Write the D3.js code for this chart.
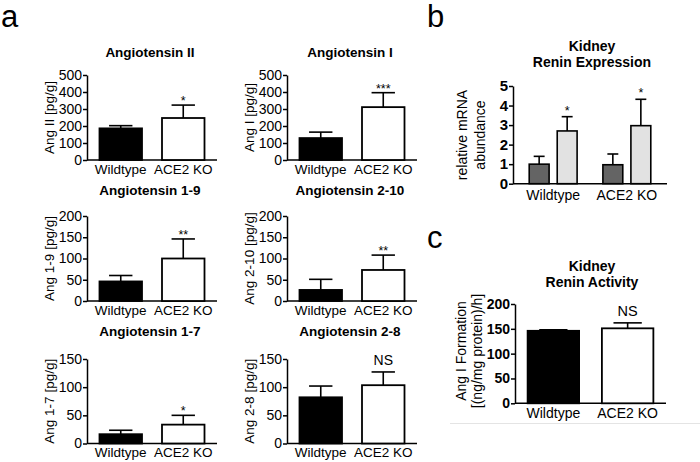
<!DOCTYPE html>
<html>
<head>
<meta charset="utf-8">
<script src="https://cdn.jsdelivr.net/npm/d3@7"></script>
<style>
  body { margin: 0; background: #fff; }
  svg { font-family: "Liberation Sans", Arial, sans-serif; }
  .axis path, .axis line { stroke: #000; stroke-width: 1.5px; }
  .axis text { fill: #000; }
</style>
</head>
<body>
<svg id="chart" width="700" height="462"></svg>
<script>

// panel a : tissue angiotensin peptides
var aTitles = ["Angiotensin II", "Angiotensin I", "Angiotensin 1-9", "Angiotensin 2-10", "Angiotensin 1-7", "Angiotensin 2-8"];
var aYLabels = ["Ang II  [pg/g]", "Ang I [pg/g]", "Ang 1-9 [pg/g]", "Ang 2-10 [pg/g]", "Ang 1-7 [pg/g]", "Ang 2-8 [pg/g]"];
var aYMax = [500, 500, 200, 200, 150, 150];
var aYStep = [100, 100, 50, 50, 50, 50];
var groups = ["Wildtype", "ACE2 KO"];
var wtMean = [186, 129, 46, 26, 16.5, 82];
var wtErr = [16, 35, 14, 25, 7, 20];
var koMean = [247, 311, 100, 73, 33.5, 103.5];
var koErr = [76, 85, 46, 35, 16.5, 23.5];
var aSig = ["*", "***", "**", "**", "*", "NS"];

// panel b : renin mRNA
var bSeries = ["control", "treated"];
var bMean = [[1.0, 2.70], [0.97, 2.97]];
var bErr = [[0.40, 0.73], [0.55, 1.35]];
var bSig = [["", "*"], ["", "*"]];
var bTicks = [0, 1, 2, 3, 4, 5];

// panel c : renin activity
var cMean = [146, 151];
var cErr = [2, 11];
var cSig = ["", "NS"];
var cTicks = [0, 50, 100, 150, 200];

(function () {

  var svg = d3.select("#chart");
  var intFmt = d3.format("d");

  function errorBars (g, x, y, means, errs, cap) {
    means.forEach(function (m, i) {
      var cx = x(i) + x.bandwidth() / 2;
      var top = y(m + errs[i]);
      g.append("line")
        .attr("x1", cx).attr("x2", cx)
        .attr("y1", y(m)).attr("y2", top)
        .attr("stroke", "#000").attr("stroke-width", 1.6);
      g.append("line")
        .attr("x1", cx - cap / 2).attr("x2", cx + cap / 2)
        .attr("y1", top).attr("y2", top)
        .attr("stroke", "#000").attr("stroke-width", 1.6);
    });
  }

  // stars sit right on the cap, NS a bit higher
  function marker (g, cx, top, label, size, lift) {
    if (!label) return;
    var ns = label === "NS";
    g.append("text")
      .attr("x", cx)
      .attr("y", ns ? top - 6.5 : top - (lift || 0))
      .attr("text-anchor", "middle")
      .attr("font-size", ns ? size : 12.5)
      .text(label);
  }

  // ---- panel a ----
  var colX = [87, 287];
  var rowY = [[75, 160], [216, 301], [359, 443.5]];
  var titleY = [57, 194.5, 336];
  var plotW = 130;
  var fs = 13.5;

  aTitles.forEach(function (title, k) {
    var ox = colX[k % 2];
    var row = Math.floor(k / 2);
    var rr = rowY[row];
    var g = svg.append("g").attr("transform", "translate(" + ox + "," + 0 + ")");

    var y = d3.scaleLinear().domain([0, aYMax[k]]).range([rr[1], rr[0]]);
    var xb = d3.scaleBand().domain([0, 1]).range([0, plotW]).paddingInner(0.32).paddingOuter(0.2);

    g.append("text")
      .attr("x", 63).attr("y", titleY[row])
      .attr("text-anchor", "middle")
      .attr("font-weight", "bold")
      .attr("font-size", 13.5)
      .text(title);

    var ya = g.append("g").attr("class", "axis")
      .call(d3.axisLeft(y).tickValues(d3.range(0, aYMax[k] + 1, aYStep[k])).tickFormat(intFmt)
        .tickSize(4).tickSizeOuter(0).tickPadding(1));
    ya.selectAll("text").attr("font-size", 14);

    g.append("line").attr("class", "axis")
      .attr("x1", 0).attr("x2", plotW)
      .attr("y1", rr[1]).attr("y2", rr[1])
      .attr("stroke", "#000").attr("stroke-width", 1.5);

    g.append("text")
      .attr("transform", "translate(" + (-33) + "," + ((rr[0] + rr[1]) / 2) + ") rotate(-90)")
      .attr("text-anchor", "middle")
      .attr("font-size", fs)
      .text(aYLabels[k]);

    var means = [wtMean[k], koMean[k]];
    var errs = [wtErr[k], koErr[k]];

    g.selectAll("rect.bar").data(means).enter().append("rect")
      .attr("class", "bar")
      .attr("x", function (d, i) { return xb(i); })
      .attr("width", xb.bandwidth())
      .attr("y", function (d) { return y(d); })
      .attr("height", function (d) { return y(0) - y(d); })
      .attr("fill", function (d, i) { return i === 0 ? "#000" : "#fff"; })
      .attr("stroke", "#000").attr("stroke-width", 1.8);

    errorBars(g, xb, y, means, errs, xb.bandwidth() * 0.55);
    marker(g, xb(1) + xb.bandwidth() / 2, y(means[1] + errs[1]), aSig[k], 14, 0);

    groups.forEach(function (name, i) {
      g.append("text")
        .attr("x", xb(i) + xb.bandwidth() / 2)
        .attr("y", rr[1] + 13.5)
        .attr("text-anchor", "middle")
        .attr("font-size", fs)
        .text(name);
    });
  });

  // ---- panel b ----
  var bx0 = 513, bW = 154;
  var gb = svg.append("g").attr("transform", "translate(" + bx0 + ",0)");
  var yb = d3.scaleLinear().domain([0, 5]).range([183.7, 86]);
  var xg = d3.scaleBand().domain(groups).range([0, bW]).paddingInner(0.35).paddingOuter(0.22);
  var xs = d3.scaleBand().domain([0, 1]).range([0, xg.bandwidth()]).paddingInner(0.29);
  var bFill = ["#646464", "#e2e2e2"];

  gb.append("text").attr("x", 79).attr("y", 51)
    .attr("text-anchor", "middle").attr("font-weight", "bold").attr("font-size", 14)
    .text("Kidney");
  gb.append("text").attr("x", 79).attr("y", 67)
    .attr("text-anchor", "middle").attr("font-weight", "bold").attr("font-size", 14)
    .text("Renin Expression");

  var yba = gb.append("g").attr("class", "axis")
    .call(d3.axisLeft(yb).tickValues(bTicks).tickFormat(intFmt).tickSize(4).tickSizeOuter(0).tickPadding(1));
  yba.selectAll("text").attr("font-size", 15).attr("font-weight", "bold");
  gb.append("line")
    .attr("x1", 0).attr("x2", bW).attr("y1", 183.7).attr("y2", 183.7)
    .attr("stroke", "#000").attr("stroke-width", 1.5);

  gb.append("text")
    .attr("transform", "translate(-46,135) rotate(-90)")
    .attr("text-anchor", "middle").attr("font-size", 14)
    .text("relative mRNA");
  gb.append("text")
    .attr("transform", "translate(-28,135) rotate(-90)")
    .attr("text-anchor", "middle").attr("font-size", 14)
    .text("abundance");

  groups.forEach(function (name, gi) {
    var gg = gb.append("g").attr("transform", "translate(" + xg(name) + ",0)");
    gg.selectAll("rect").data(bMean[gi]).enter().append("rect")
      .attr("x", function (d, i) { return xs(i); })
      .attr("width", xs.bandwidth())
      .attr("y", function (d) { return yb(d); })
      .attr("height", function (d) { return yb(0) - yb(d); })
      .attr("fill", function (d, i) { return bFill[i]; })
      .attr("stroke", "#000").attr("stroke-width", 1.6);
    errorBars(gg, xs, yb, bMean[gi], bErr[gi], xs.bandwidth() * 0.55);
    bMean[gi].forEach(function (m, i) {
      marker(gg, xs(i) + xs.bandwidth() / 2, yb(m + bErr[gi][i]), bSig[gi][i], 14, 2);
    });
    gb.append("text")
      .attr("x", xg(name) + xg.bandwidth() / 2)
      .attr("y", 200)
      .attr("text-anchor", "middle").attr("font-size", 14)
      .text(name);
  });

  // ---- panel c ----
  var cx0 = 515, cW = 151;
  var gc = svg.append("g").attr("transform", "translate(" + cx0 + ",0)");
  var yc = d3.scaleLinear().domain([0, 200]).range([403.3, 304]);
  var xc = d3.scaleBand().domain([0, 1]).range([0, cW]).paddingInner(0.307).paddingOuter(0.17);

  gc.append("text").attr("x", 77).attr("y", 271)
    .attr("text-anchor", "middle").attr("font-weight", "bold").attr("font-size", 14)
    .text("Kidney");
  gc.append("text").attr("x", 77).attr("y", 287)
    .attr("text-anchor", "middle").attr("font-weight", "bold").attr("font-size", 14)
    .text("Renin Activity");

  var yca = gc.append("g").attr("class", "axis")
    .call(d3.axisLeft(yc).tickValues(cTicks).tickFormat(intFmt).tickSize(4).tickSizeOuter(0).tickPadding(1));
  yca.selectAll("text").attr("font-size", 14).attr("font-weight", "bold");
  gc.append("line")
    .attr("x1", 0).attr("x2", cW).attr("y1", 403.3).attr("y2", 403.3)
    .attr("stroke", "#000").attr("stroke-width", 1.5);

  gc.append("text")
    .attr("transform", "translate(-49,351) rotate(-90)")
    .attr("text-anchor", "middle").attr("font-size", 14)
    .text("Ang I Formation");
  gc.append("text")
    .attr("transform", "translate(-33,351) rotate(-90)")
    .attr("text-anchor", "middle").attr("font-size", 14)
    .text("[(ng/mg protein)/h]");

  gc.selectAll("rect.bar").data(cMean).enter().append("rect")
    .attr("class", "bar")
    .attr("x", function (d, i) { return xc(i); })
    .attr("width", xc.bandwidth())
    .attr("y", function (d) { return yc(d); })
    .attr("height", function (d) { return yc(0) - yc(d); })
    .attr("fill", function (d, i) { return i === 0 ? "#000" : "#fff"; })
    .attr("stroke", "#000").attr("stroke-width", 1.8);
  errorBars(gc, xc, yc, cMean, cErr, xc.bandwidth() * 0.55);
  cMean.forEach(function (m, i) {
    marker(gc, xc(i) + xc.bandwidth() / 2, yc(m + cErr[i]), cSig[i], 14.5, 0);
  });
  groups.forEach(function (name, i) {
    gc.append("text")
      .attr("x", xc(i) + xc.bandwidth() / 2)
      .attr("y", 418)
      .attr("text-anchor", "middle").attr("font-size", 14)
      .text(name);
  });

  svg.append("line")
    .attr("x1", 450).attr("x2", 700).attr("y1", 423.5).attr("y2", 423.5)
    .attr("stroke", "#e4e4e4").attr("stroke-width", 1);

  // panel letters
  [["a", 1, 27], ["b", 427, 27], ["c", 427, 248]].forEach(function (p) {
    svg.append("text")
      .attr("x", p[1]).attr("y", p[2])
      .attr("font-size", 31)
      .text(p[0]);
  });

})();
</script>
</body>
</html>
